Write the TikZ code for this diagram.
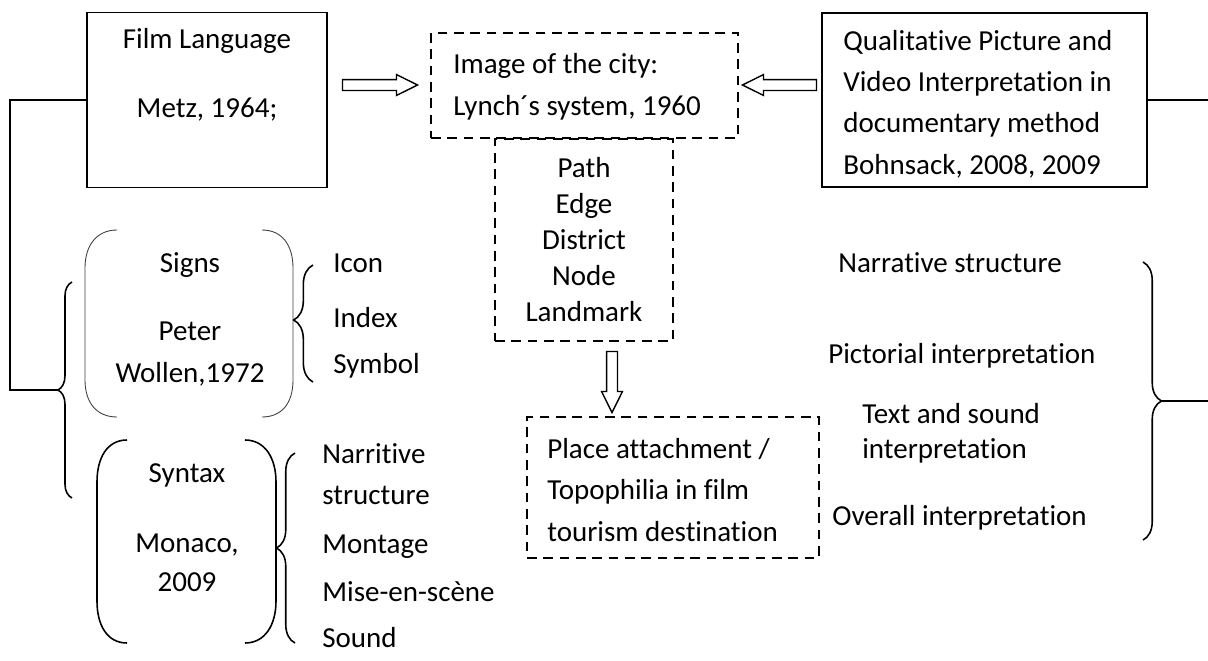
\documentclass[tikz,border=0pt]{standalone}
\usepackage{fontspec}
\setmainfont{Carlito}[Ligatures={TeX,NoCommon}]
\usetikzlibrary{shapes.arrows,decorations.pathreplacing,calc}

\tikzset{
  solidbox/.style={draw,line width=1pt,inner sep=0},
  dashbox/.style={draw,line width=1.1pt,dash pattern=on 5.5pt off 3.8pt,inner sep=0},
  lbl/.style={inner sep=0,text height=0.62em,text depth=0pt},
  boxtext/.style={align=left,anchor=west,inner sep=0},
  hollow/.style={single arrow,draw,line width=0.8pt,fill=white,inner xsep=0,inner ysep=0.095cm,
    single arrow head extend=0.1cm,single arrow tip angle=53},
  brc/.style={decorate,line width=0.9pt},
  thinparen/.style={draw=black!75,line width=0.5pt},
  thickparen/.style={draw,line width=0.9pt},
}

\begin{document}
\begin{tikzpicture}[x=0.02cm,y=-0.02cm,font=\fontsize{16.5}{20}\selectfont]
    \useasboundingbox (0,0) rectangle (1208,660);

    % top row
    \node[solidbox,minimum width=4.8cm,minimum height=3.5cm] (film) at (207,100) {};
    \node[lbl] (filmtitle) at (207,43) {Film Language};
    \node[lbl] (filmref) at (207,112) {Metz, 1964;};

    \node[dashbox,minimum width=6.14cm,minimum height=2.1cm] (city) at (584.5,85.5) {};
    \node[boxtext,font=\fontsize{16.5}{23.8}\selectfont] (citytext) at (453,87)
      {Image of the city:\\Lynch´s system, 1960};

    \node[solidbox,minimum width=6.5cm,minimum height=3.48cm] (qual) at (984.5,100) {};
    \node[boxtext,font=\fontsize{16.5}{23.6}\selectfont] (qualtext) at (843,104)
      {Qualitative Picture and\\Video Interpretation in\\documentary method\\Bohnsack, 2008, 2009};

    \node[hollow,minimum height=1.5cm] (toCity) at (374.5,85) {};
    \node[hollow,minimum height=1.48cm,shape border rotate=180] (fromQual) at (785,85) {};

    % Lynch elements
    \node[dashbox,minimum width=3.56cm,minimum height=4.04cm,align=center,
      font=\fontsize{16.5}{20.5}\selectfont] (lynch) at (584,240)
      {Path\\Edge\\District\\Node\\Landmark};
    \node[hollow,minimum height=1.22cm,shape border rotate=270,inner xsep=0.095cm,inner ysep=0]
      (toPlace) at (612,376.5) {};

    \node[dashbox,minimum width=5.84cm,minimum height=2.82cm] (place) at (673,487.5) {};
    \node[boxtext,font=\fontsize{16.5}{23.4}\selectfont] (placetext) at (547,490)
      {Place attachment /\\Topophilia in film\\tourism destination};

    % left side
    \draw[thinparen] (117,230) .. controls (97,230) and (85,245) .. (85,268) -- (85,380)
      .. controls (85,403) and (97,417) .. (117,417);
    \draw[thinparen] (262,230) .. controls (282,230) and (293,245) .. (293,268) -- (293,380)
      .. controls (293,403) and (282,417) .. (262,417);
    \node[lbl] (signs) at (190,267) {Signs};
    \node[lbl] (peter) at (190,335) {Peter};
    \node[lbl] (wollen) at (190,377) {Wollen,1972};

    \draw[thickparen] (127,440) .. controls (107,440) and (97,458) .. (97,482) -- (97,601)
      .. controls (97,625) and (107,643) .. (127,643);
    \draw[thickparen] (245,440) .. controls (265,440) and (276,458) .. (276,482) -- (276,601)
      .. controls (276,625) and (265,643) .. (245,643);
    \node[lbl] (syntax) at (187,477) {Syntax};
    \node[lbl] (monaco) at (187,547) {Monaco,};
    \node[lbl] (monacoyr) at (187,586) {2009};

    \draw[brc,decoration={brace,amplitude=11pt,aspect=0.53}] (313,382) -- (313,265);
    \node[lbl,anchor=west] (icon) at (333,267) {Icon};
    \node[lbl,anchor=west] (index) at (333,322) {Index};
    \node[lbl,anchor=west] (symbol) at (333,368) {Symbol};

    \draw[brc,decoration={brace,amplitude=10.5pt}] (295,643) -- (295,453);
    \node[lbl,anchor=west] (narr) at (322,458) {Narritive};
    \node[lbl,anchor=west] (narr2) at (322,499) {structure};
    \node[lbl,anchor=west] (montage) at (322,548) {Montage};
    \node[lbl,anchor=west] (mise) at (322,596) {Mise-en-scène};
    \node[lbl,anchor=west] (sound) at (322,642) {Sound};

    \draw[brc,decoration={brace,amplitude=8pt}] (72,498) -- (72,282);
    \coordinate (lbtip) at (58,390);
    \coordinate (lcorner) at (10,390);
    \draw[line width=1pt] (film.west) -| (lcorner) -- (lbtip);

    % right side
    \node[lbl,anchor=west] (rnarr) at (838,267) {Narrative structure};
    \node[lbl,anchor=west] (rpict) at (828,358) {Pictorial interpretation};
    \node[lbl,anchor=west] (rtext) at (862,418) {Text and sound};
    \node[lbl,anchor=west] (rtext2) at (862,453) {interpretation};
    \node[lbl,anchor=west] (rover) at (832,520) {Overall interpretation};

    \draw[brc,decoration={brace,amplitude=10.5pt}] (1143,262) -- (1143,540);
    \coordinate (rbtip) at (1162,401);
    \coordinate (redge) at (1208,401);
    \coordinate (qedge) at (1208,100);
    \draw[line width=1pt] (rbtip) -- (redge);
    \draw[line width=1pt] (qual.east) -- (qedge);
\end{tikzpicture}
\end{document}
